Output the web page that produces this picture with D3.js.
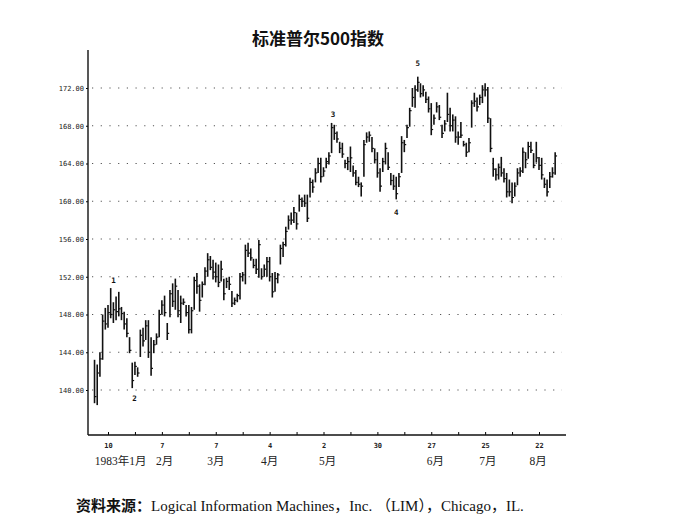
<!DOCTYPE html>
<html>
<head>
<meta charset="utf-8">
<script src="https://cdn.jsdelivr.net/npm/d3@7"></script>
<style>
  body { margin: 0; background: #fff; }
  .AxisStyle text { font-family: "DejaVu Sans Mono", monospace; font-size: 7px; fill: #222; }
</style>
</head>
<body>
<div id="chart"></div>
<script>
// ------ Data ---------------//
// daily bars, first bar is trading day -5 (3 Jan 1983), day 0 = 10 Jan
var firstDay = -5;

var highs = [
  143.2, 142.7, 144.0, 148.0, 148.7,
  149.0, 150.8, 149.3, 149.9, 150.4, 148.8, 148.3, 147.6, 145.6, 142.9,
  143.0, 142.4, 146.4, 146.6, 147.4, 147.4, 145.6, 145.3, 146.0, 148.5,
  149.5, 150.0, 147.1, 150.6, 151.3, 151.8, 150.6, 150.0, 149.7, 149.0,
  149.0, 148.8, 152.0, 152.4, 151.2, 151.5, 153.0, 154.5, 154.2, 153.8,
  153.5, 153.3, 153.7, 151.8, 151.9, 152.0, 150.5, 149.8, 150.2, 152.4,
  152.5, 155.4, 155.6, 155.0, 153.9, 153.9, 155.9, 152.9, 153.3, 154.1,
  154.1, 152.4, 152.5, 152.4, 155.4, 155.7, 157.3, 158.5, 158.8, 159.4,
  158.8, 160.7, 160.4, 160.7, 160.7, 162.5, 162.3, 163.5, 164.6, 164.6,
  163.6, 164.6, 165.2, 168.3, 168.1, 167.4, 166.3, 166.2, 164.4, 164.7,
  165.8, 163.8, 163.3, 162.6, 162.0, 166.5, 167.3, 167.4, 166.8, 165.6,
  165.2, 163.5, 164.6, 166.2, 165.2, 163.0, 162.8, 162.6, 163.0, 166.9,
  166.5, 168.1, 169.9, 172.0, 172.3, 173.2, 172.5, 172.3, 171.6, 171.1,
  170.4, 169.2, 170.5, 170.2, 168.1, 168.6, 171.5, 169.9, 169.2, 169.0,
  167.4, 168.4, 166.4, 166.2, 166.7, 170.7, 171.5, 171.0, 171.3, 172.3,
  172.5, 172.1, 168.8, 164.6, 163.5, 164.0, 164.7, 163.5, 163.0, 162.3,
  162.0, 162.0, 163.5, 163.6, 165.7, 165.2, 166.3, 166.3, 165.1, 166.3,
  164.7, 164.6, 162.5, 162.3, 163.1, 163.6, 165.2
];

var lows = [
  138.6, 138.4, 141.4, 143.2, 146.4,
  146.6, 147.6, 147.1, 147.4, 147.8, 147.4, 146.4, 145.6, 143.9, 140.2,
  141.6, 141.4, 143.5, 144.6, 145.3, 143.4, 141.5, 143.9, 144.8, 145.6,
  148.0, 147.8, 145.3, 147.7, 148.8, 148.5, 147.7, 147.1, 149.0, 147.8,
  146.0, 146.0, 148.5, 150.2, 148.3, 149.8, 151.1, 152.0, 152.7, 151.7,
  151.4, 150.9, 151.5, 149.5, 150.8, 150.6, 148.8, 149.0, 149.3, 149.6,
  151.5, 151.2, 154.1, 153.7, 152.9, 152.3, 151.9, 151.7, 152.0, 152.0,
  151.5, 149.8, 150.4, 151.3, 153.3, 154.1, 155.2, 157.0, 157.5, 157.7,
  157.0, 158.9, 159.4, 159.4, 157.8, 160.4, 160.9, 162.0, 163.0, 162.0,
  162.6, 163.5, 163.9, 165.1, 166.5, 166.2, 165.1, 164.6, 163.5, 163.3,
  163.1, 162.6, 161.7, 161.5, 160.5, 162.6, 166.2, 166.3, 165.2, 164.0,
  162.5, 161.0, 163.1, 163.9, 163.3, 161.7, 161.2, 160.2, 161.5, 163.0,
  165.2, 166.7, 167.9, 170.0, 169.9, 171.6, 171.0, 171.1, 170.4, 169.4,
  167.0, 168.1, 169.4, 168.6, 166.7, 167.4, 168.4, 167.4, 167.4, 166.2,
  166.0, 166.7, 165.8, 164.7, 165.2, 167.8, 170.0, 169.5, 170.2, 170.4,
  171.1, 168.3, 165.2, 162.6, 162.2, 162.3, 162.6, 162.0, 160.4, 160.5,
  159.8, 160.5, 161.7, 162.6, 163.0, 163.5, 164.5, 165.1, 163.5, 164.1,
  163.3, 162.3, 161.4, 160.5, 161.4, 162.5, 162.8
];

var closes = [
  139.3, 141.8, 143.3, 147.3, 147.0,
  148.2, 148.0, 148.5, 148.3, 148.6, 148.1, 147.0, 146.0, 144.2, 141.0,
  142.5, 141.8, 145.8, 145.2, 146.8, 144.0, 142.3, 144.8, 145.6, 148.0,
  149.0, 148.2, 146.0, 150.2, 149.4, 151.0, 148.4, 149.2, 149.3, 148.2,
  146.4, 148.4, 151.6, 151.0, 149.5, 151.2, 152.6, 153.8, 153.0, 152.5,
  152.0, 151.4, 152.8, 150.2, 151.5, 151.2, 149.2, 149.5, 150.0, 152.0,
  152.2, 154.8, 154.5, 154.0, 153.2, 152.8, 155.4, 152.0, 152.8, 153.6,
  152.0, 150.4, 151.8, 152.2, 155.0, 155.4, 156.8, 158.0, 158.0, 158.8,
  157.6, 160.2, 160.0, 159.8, 158.2, 162.0, 161.5, 163.0, 164.0, 162.6,
  163.2, 164.2, 164.8, 167.8, 167.2, 166.6, 165.6, 165.0, 164.0, 164.2,
  164.6, 163.0, 162.0, 161.8, 161.6, 166.0, 166.8, 167.0, 165.6, 164.4,
  163.0, 161.6, 164.2, 165.6, 163.6, 162.2, 161.6, 160.8, 162.6, 166.2,
  166.0, 167.8, 169.6, 171.0, 171.8, 172.6, 171.4, 171.8, 170.8, 169.8,
  167.6, 168.8, 170.0, 168.9, 167.2, 168.2, 169.2, 168.0, 168.6, 166.8,
  166.8, 167.0, 166.0, 165.2, 166.2, 170.4, 170.6, 170.0, 171.0, 171.8,
  171.8, 168.8, 165.6, 163.4, 162.8, 163.6, 163.0, 162.4, 161.0, 161.0,
  160.4, 161.6, 163.0, 163.2, 165.2, 164.4, 165.8, 165.4, 163.8, 164.6,
  163.8, 162.8, 161.8, 161.0, 162.6, 163.0, 164.8
];

var yTicks = [140, 144, 148, 152, 156, 160, 164, 168, 172];

// x ticks every 10 trading days, a day label on every second one
var xTickDays = [0, 10, 20, 30, 40, 50, 60, 70, 80, 90, 100, 110, 120, 130, 140, 150, 160];
var xTickLabels = ["10", "", "7", "", "7", "", "4", "", "2", "", "30", "", "27", "", "25", "", "22"];

var monthNames = ["1983年1月", "2月", "3月", "4月", "5月", "6月", "7月", "8月"];
var monthDays = [4.7, 21, 40, 60, 81.5, 121.5, 141, 159.7];

// Elliott wave counts
var waveNames = ["1", "2", "3", "4", "5"];
var waveDays = [2, 9.8, 83.5, 107, 115];
var waveValues = [151.6, 139.0, 169.1, 158.8, 174.5];

var titleText = "标准普尔500指数";

// ------ SVG ---------------//
var width = 676, height = 527;

var svg = d3.select("#chart").append("svg")
    .attr("width", width)
    .attr("height", height);

svg.append("rect")
    .attr("width", width)
    .attr("height", height)
    .attr("fill", "#fff");

// ------ Scales ---------------//
var x = d3.scaleLinear()
    .domain([0, 160])
    .range([108, 539]);

var y = d3.scaleLinear()
    .domain([140, 172])
    .range([390, 88]);

var plot = { left: 88, right: 566, top: 50, bottom: 435 };

// ------ Gridlines ---------------//
svg.append("g")
  .selectAll("line")
  .data(yTicks)
  .join("line")
    .attr("x1", plot.left + 4)
    .attr("x2", 562)
    .attr("y1", d => y(d))
    .attr("y2", d => y(d))
    .attr("stroke", "#555")
    .attr("stroke-width", 1.2)
    .attr("stroke-dasharray", "1.2,7.5");

// ------ Axes ---------------//
var yAxis = svg.append("g").attr("class", "AxisStyle")
    .attr("transform", `translate(${plot.left},0)`)
    .call(d3.axisLeft(y)
      .tickValues(yTicks)
      .tickSize(2)
      .tickPadding(2)
      .tickFormat(d3.format(".2f")));
yAxis.select(".domain").remove();

var xAxis = svg.append("g").attr("class", "AxisStyle")
    .attr("transform", `translate(0,${plot.bottom})`)
    .call(d3.axisBottom(x)
      .tickValues(xTickDays)
      .tickSizeInner(-3)
      .tickSizeOuter(0)
      .tickPadding(8)
      .tickFormat((d, i) => xTickLabels[i]));
xAxis.select(".domain").remove();
xAxis.selectAll("text").attr("font-weight", "bold");

svg.append("line")
    .attr("x1", plot.left).attr("x2", plot.left)
    .attr("y1", plot.top).attr("y2", plot.bottom)
    .attr("stroke", "#111").attr("stroke-width", 1.4);

svg.append("line")
    .attr("x1", plot.left).attr("x2", plot.right)
    .attr("y1", plot.bottom).attr("y2", plot.bottom)
    .attr("stroke", "#111").attr("stroke-width", 1.4);

// ------ Month labels ---------------//
svg.append("g")
  .selectAll("text")
  .data(monthNames)
  .join("text")
    .attr("x", (d, i) => x(monthDays[i]))
    .attr("y", 465)
    .attr("text-anchor", "middle")
    .attr("font-family", "'Liberation Serif', 'Noto Sans CJK SC', serif")
    .attr("font-size", "11.5px")
    .attr("fill", "#222")
    .text(d => d);

// ------ Bars ---------------//
var bars = svg.append("g")
  .selectAll("g")
  .data(highs)
  .join("g")
    .attr("transform", (d, i) => `translate(${x(i + firstDay)},0)`);

bars.append("line")
    .attr("y1", d => y(d))
    .attr("y2", (d, i) => y(lows[i]))
    .attr("stroke", "#111")
    .attr("stroke-width", 1.6);

bars.append("line")
    .attr("x1", 0)
    .attr("x2", 1.9)
    .attr("y1", (d, i) => y(closes[i]))
    .attr("y2", (d, i) => y(closes[i]))
    .attr("stroke", "#111")
    .attr("stroke-width", 1.2);

// ------ Wave labels ---------------//
svg.append("g")
  .selectAll("text")
  .data(waveNames)
  .join("text")
    .attr("x", (d, i) => x(waveDays[i]))
    .attr("y", (d, i) => y(waveValues[i]))
    .attr("text-anchor", "middle")
    .attr("dominant-baseline", "middle")
    .attr("font-family", "'DejaVu Sans Mono', monospace")
    .attr("font-weight", "bold")
    .attr("font-size", "7.5px")
    .attr("fill", "#111")
    .text(d => d);

// ------ Title ---------------//
svg.append("text")
    .attr("x", 318)
    .attr("y", 45)
    .attr("text-anchor", "middle")
    .attr("font-family", "'Noto Sans CJK SC', sans-serif")
    .attr("font-weight", "bold")
    .attr("font-size", "17px")
    .attr("fill", "#111")
    .text(titleText);

// ------ Source ---------------//
var source = svg.append("text")
    .attr("x", 76)
    .attr("y", 511)
    .attr("fill", "#111")
    .attr("font-size", "15px");

source.append("tspan")
    .attr("font-family", "'Noto Sans CJK SC', sans-serif")
    .attr("font-weight", "bold")
    .text("资料来源：");

source.append("tspan")
    .attr("font-family", "'Liberation Serif', 'Noto Sans CJK SC', serif")
    .text("Logical Information Machines，Inc.  （LIM），Chicago，IL.");
</script>
</body>
</html>
